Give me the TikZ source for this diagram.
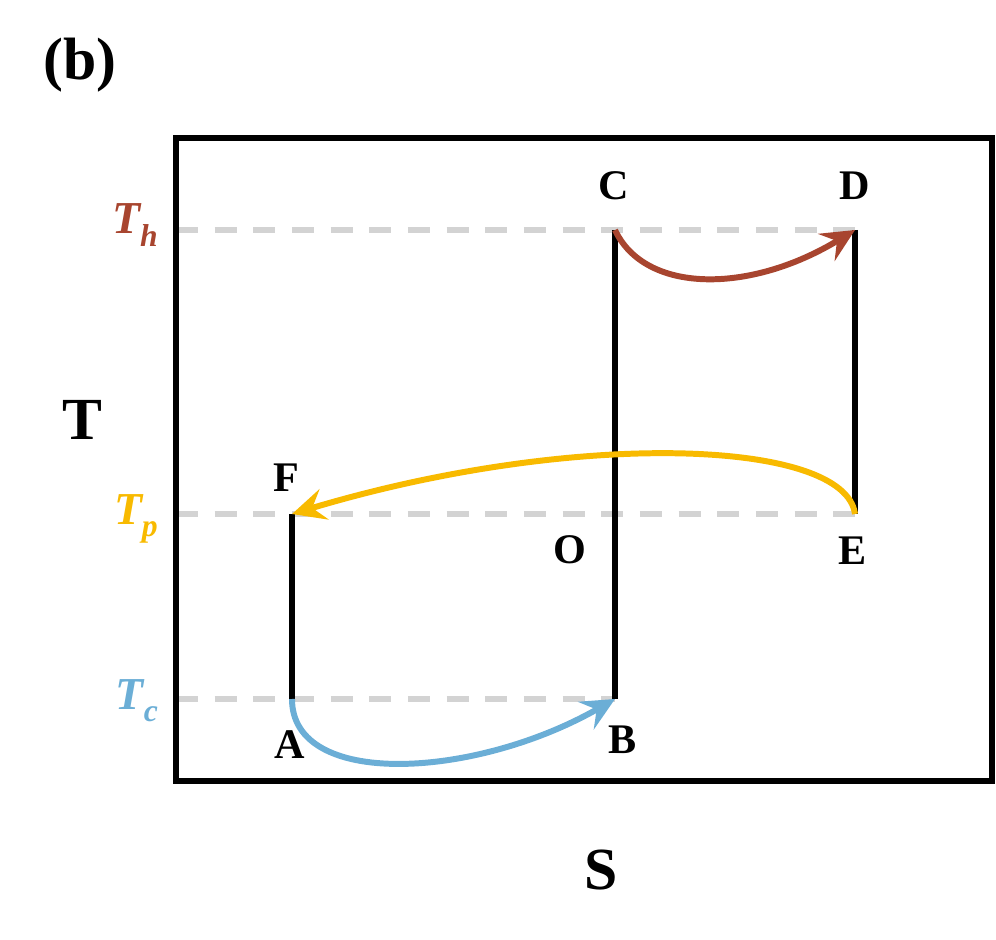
\documentclass[tikz,border=0pt]{standalone}
\usepackage{fontspec}
\setmainfont{Liberation Serif}
\usepackage{xcolor}
\usepackage{tikz}
\usetikzlibrary{arrows.meta}
\definecolor{hot}{HTML}{A8452F}
\definecolor{mid}{HTML}{F8BA00}
\definecolor{cold}{HTML}{6BAED6}
\definecolor{muted}{HTML}{D3D3D3}
\newcommand{\lowsub}[1]{\raisebox{-0.28em}{\fontsize{18}{20}\selectfont #1}}
\tikzset{
  box/.style={draw=black, line width=3.6pt},
  stage/.style={draw=black, line width=3.1pt},
  guide/.style={draw=muted, line width=3pt, dash pattern=on 12.5pt off 9.5pt},
  flow/.style={line width=3.4pt, -{Stealth[length=19pt, width=18pt, inset=7pt]}},
  lab/.style={font=\bfseries\fontsize{24}{28}\selectfont},
  axis/.style={font=\bfseries\fontsize{34}{40}\selectfont},
  temp/.style={font=\bfseries\itshape\fontsize{26}{30}\selectfont, anchor=base east},
}

\begin{document}
\begin{tikzpicture}
  \useasboundingbox (0,0) rectangle (19.92,18.78);

  % corners of the cycle
  \coordinate (A) at (5.84,4.8);
  \coordinate (B) at (12.3,4.8);
  \coordinate (C) at (12.3,14.18);
  \coordinate (D) at (17.1,14.18);
  \coordinate (E) at (17.1,8.5);
  \coordinate (F) at (5.84,8.5);
  \coordinate (O) at (12.3,8.5);

  % frame edge for the guides
  \coordinate (Lh) at (3.52,14.18);
  \coordinate (Lp) at (3.52,8.5);
  \coordinate (Lc) at (3.52,4.8);

  \draw[guide] (Lh) -- (D);
  \draw[guide] (Lp) -- (E);
  \draw[guide] (Lc) -- (B);

  \draw[box] (3.52,3.16) rectangle (19.84,16.02);

  \draw[stage] (A) -- (F);
  \draw[stage] (B) -- (C);
  \draw[stage] (D) -- (E);

  % heat flows
  \draw[flow, cold] (A) .. controls (5.84,3.0) and (9.5,3.2) .. (B);
  \draw[flow, hot] (C) .. controls (12.9,12.9) and (15.0,12.9) .. (D);
  \draw[flow, mid] (E) .. controls (16.9,10.0) and (11.5,10.2) .. (F);

  \node[lab] (labA) at (5.8,3.88) {A};
  \node[lab] (labB) at (12.46,3.98) {B};
  \node[lab] (labC) at (12.28,15.06) {C};
  \node[lab] (labD) at (17.1,15.06) {D};
  \node[lab] (labE) at (17.06,7.76) {E};
  \node[lab] (labF) at (5.72,9.22) {F};
  \node[lab] (labO) at (11.4,7.78) {O};

  \node[temp, text=hot] (Th) at (3.28,14.1) {T\lowsub{h}};
  \node[temp, text=mid] (Tp) at (3.28,8.3) {T\lowsub{p}};
  \node[temp, text=cold] (Tc) at (3.28,4.6) {T\lowsub{c}};

  \node[axis] (Taxis) at (1.64,10.38) {T};
  \node[axis] (Saxis) at (12.02,1.38) {S};
  \node[axis] (tag) at (1.6,17.48) {(b)};
\end{tikzpicture}
\end{document}
